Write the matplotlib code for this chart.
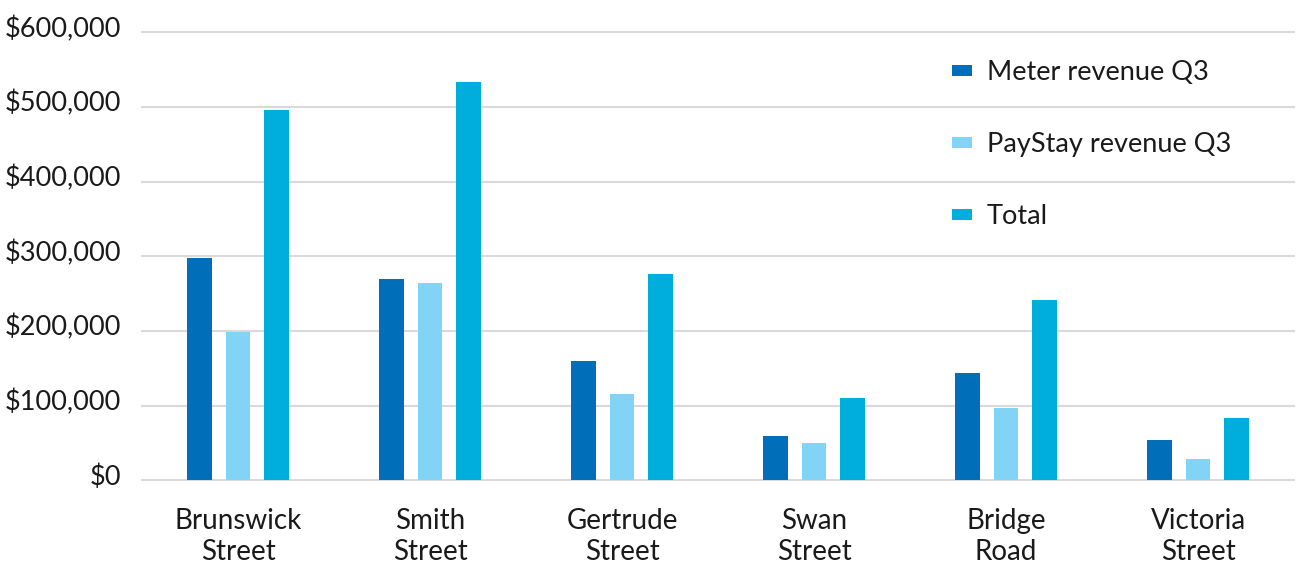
import matplotlib
matplotlib.use("Agg")
import matplotlib.pyplot as plt
from matplotlib.patches import Patch
from matplotlib.ticker import FuncFormatter
from matplotlib.transforms import ScaledTranslation
import numpy as np

plt.rcParams['font.family'] = ['Lato', 'DejaVu Sans']

streets = ["Brunswick\nStreet", "Smith\nStreet", "Gertrude\nStreet",
           "Swan\nStreet", "Bridge\nRoad", "Victoria\nStreet"]
meter = [298000, 270000, 160000, 60000, 144000, 54000]
paystay = [198000, 264000, 116000, 50000, 97000, 29000]
total = [496000, 534000, 276000, 110000, 241000, 83000]
series_names = ["Meter revenue Q3", "PayStay revenue Q3", "Total"]
colors = ["#006EB8", "#82D4F6", "#00AEDE"]

fig = plt.figure(figsize=(12.97, 5.63), dpi=100)
ax = fig.add_axes([142 / 1297, 82.7 / 563, 1152 / 1297, 448 / 563])

x = np.arange(len(streets))
offset = 0.2
width = 0.13
for i, (vals, c) in enumerate(zip([meter, paystay, total], colors)):
    ax.bar(x + (i - 1) * offset, vals, width=width, color=c, zorder=3)

ax.set_xlim(-0.5, len(streets) - 0.5)
ax.set_ylim(0, 600000)
ax.set_yticks(np.arange(0, 600001, 100000))
ax.yaxis.set_major_formatter(FuncFormatter(lambda v, p: f"${v:,.0f}"))
ax.set_xticks(x)
ax.set_xticklabels(streets, linespacing=1.25, fontsize=20)

ax.grid(axis="y", color="#d9d9d9", linewidth=1.5, zorder=0)
for gl in ax.get_ygridlines():
    gl.set_clip_on(False)
for s in ax.spines.values():
    s.set_visible(False)
ax.tick_params(axis="both", length=0, colors="#1a1a1a")
ax.tick_params(axis="y", pad=15, labelsize=19.5)
ax.tick_params(axis="x", pad=20)

# value labels sit slightly above their gridlines
lift = ScaledTranslation(0, 6 / 100, fig.dpi_scale_trans)
for lbl in ax.get_yticklabels():
    lbl.set_transform(lbl.get_transform() + lift)

handles = [Patch(facecolor=c, edgecolor="none") for c in colors]
leg = ax.legend(handles, series_names, loc="upper left",
                bbox_to_anchor=(810 / 1152, 0.938), frameon=False,
                fontsize=19.5, handlelength=0.74, handleheight=0.26,
                handletextpad=0.55, labelspacing=1.74,
                borderaxespad=0, borderpad=0)
for t in leg.get_texts():
    t.set_color("#1a1a1a")

fig.savefig("out.png", dpi=100, facecolor="white")
